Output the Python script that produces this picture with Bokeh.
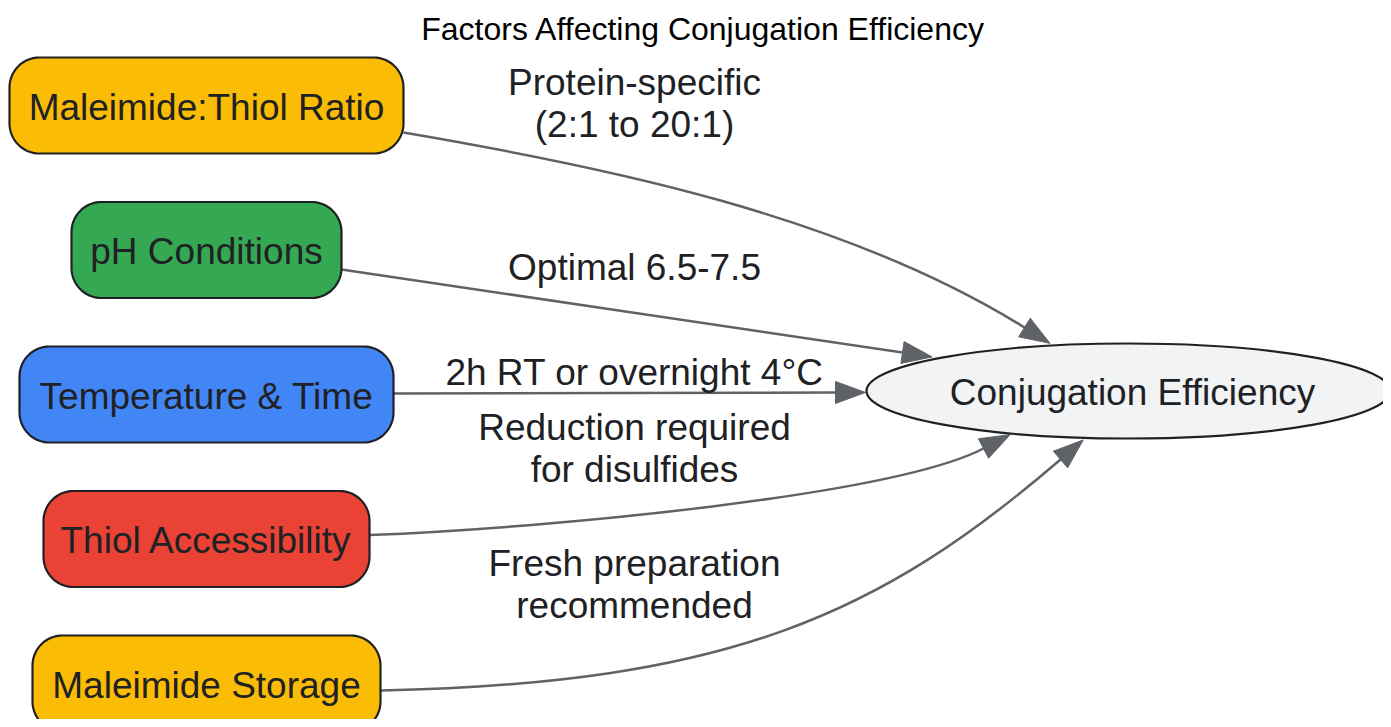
import numpy as np
from bokeh.plotting import figure
from bokeh.models import Range1d
from bokeh.core.properties import value
from bokeh.embed import file_html
from bokeh.resources import INLINE

# ---------------- data ----------------
title_text = "Factors Affecting Conjugation Efficiency"
factors = ["Maleimide:Thiol Ratio", "pH Conditions", "Temperature & Time",
           "Thiol Accessibility", "Maleimide Storage"]
factor_colors = ["#FBBC05", "#34A853", "#4285F4", "#EA4335", "#FBBC05"]
edge_labels = ["Protein-specific\n(2:1 to 20:1)", "Optimal 6.5-7.5",
               "2h RT or overnight 4°C", "Reduction required\nfor disulfides",
               "Fresh preparation\nrecommended"]
target = "Conjugation Efficiency"
target_color = "#F1F3F4"

# ---------------- layout (pixel space of the picture) ----------------
W, H = 1383, 719
ROW0, ROW_GAP = 105, 144.5
NODE_CX, NODE_H, NODE_R = 206, 96, 30
node_w = [394, 270, 374, 326, 348]
ELL_CX, ELL_CY, ELL_W, ELL_H = 1128, 390.5, 524, 95
LABEL_CX = 634
label_cy = [103, 267, 372, 447.5, 583.5]
LINE_GAP = 42
# edge geometry: start dy from node centre, control points, end (arrow base)
edge_geo = [
    (27,   (603, 166),   (844, 215),   (1024, 327)),
    (19.5, None,         None,         (902, 352)),
    (-1,   None,         None,         (835, 392)),
    (-4,   (549, 527.6), (893, 494.8), (983, 448)),
    (7,    (730, 683),   (880, 613.8), (1060, 459)),
]
ARROW_L, ARROW_HW = 30, 11
FONT = value("Liberation Sans")
TXT = "#202124"
EDGE = "#5F6368"

p = figure(width=W, height=H, x_range=Range1d(0, W), y_range=Range1d(H, 0),
           output_backend="svg", toolbar_location=None, min_border=0)
p.axis.visible = False
p.grid.visible = False
p.outline_line_color = None
p.background_fill_color = "white"
p.border_fill_color = "white"


def rounded_rect(cx, cy, w, h, r, n=16):
    xs, ys = [], []
    corners = [(cx + w / 2 - r, cy - h / 2 + r, -np.pi / 2, 0),
               (cx + w / 2 - r, cy + h / 2 - r, 0, np.pi / 2),
               (cx - w / 2 + r, cy + h / 2 - r, np.pi / 2, np.pi),
               (cx - w / 2 + r, cy - h / 2 + r, np.pi, 1.5 * np.pi)]
    for (ox, oy, a0, a1) in corners:
        t = np.linspace(a0, a1, n)
        xs.extend(ox + r * np.cos(t))
        ys.extend(oy + r * np.sin(t))
    return xs, ys


# edges
for i, (dy, c1, c2, end) in enumerate(edge_geo):
    cy = ROW0 + i * ROW_GAP
    x0, y0 = NODE_CX + node_w[i] / 2, cy + dy
    x3, y3 = end
    if c1 is None:
        c1 = (x0 + (x3 - x0) / 3, y0 + (y3 - y0) / 3)
        c2 = (x0 + 2 * (x3 - x0) / 3, y0 + 2 * (y3 - y0) / 3)
    p.bezier(x0=[x0], y0=[y0], x1=[x3], y1=[y3], cx0=[c1[0]], cy0=[c1[1]],
             cx1=[c2[0]], cy1=[c2[1]], line_color=EDGE, line_width=2.5)
    d = np.array([x3 - c2[0], y3 - c2[1]], dtype=float)
    d /= np.hypot(*d)
    nrm = np.array([-d[1], d[0]])
    tip = np.array([x3, y3]) + ARROW_L * d
    b1 = np.array([x3, y3]) + ARROW_HW * nrm
    b2 = np.array([x3, y3]) - ARROW_HW * nrm
    p.patch([tip[0], b1[0], b2[0]], [tip[1], b1[1], b2[1]],
            fill_color=EDGE, line_color=EDGE, line_width=1)

# edge labels
for i, lab in enumerate(edge_labels):
    lines = lab.split("\n")
    n = len(lines)
    ys = [label_cy[i] + (k - (n - 1) / 2) * LINE_GAP for k in range(n)]
    p.text(x=[LABEL_CX] * n, y=ys, text=lines, text_font=FONT, text_font_size="37px",
           text_align="center", text_baseline="middle", text_color=TXT)

# factor nodes
for i, name in enumerate(factors):
    cy = ROW0 + i * ROW_GAP
    xs, ys = rounded_rect(NODE_CX, cy, node_w[i], NODE_H, NODE_R)
    p.patch(xs, ys, fill_color=factor_colors[i], line_color="#202124", line_width=2.2)
    p.text(x=[NODE_CX], y=[cy + 1.5], text=[name], text_font=FONT, text_font_size="37px",
           text_align="center", text_baseline="middle", text_color=TXT)

# target node
p.ellipse(x=[ELL_CX], y=[ELL_CY], width=[ELL_W], height=[ELL_H],
          fill_color=target_color, line_color="#202124", line_width=2.2)
p.text(x=[ELL_CX + 4], y=[ELL_CY + 1.5], text=[target], text_font=FONT, text_font_size="37px",
       text_align="center", text_baseline="middle", text_color=TXT)

# title
p.text(x=[703], y=[28], text=[title_text], text_font=FONT, text_font_size="32px",
       text_align="center", text_baseline="middle", text_color="#000000")

open("out.html", "w").write(file_html(p, INLINE))
